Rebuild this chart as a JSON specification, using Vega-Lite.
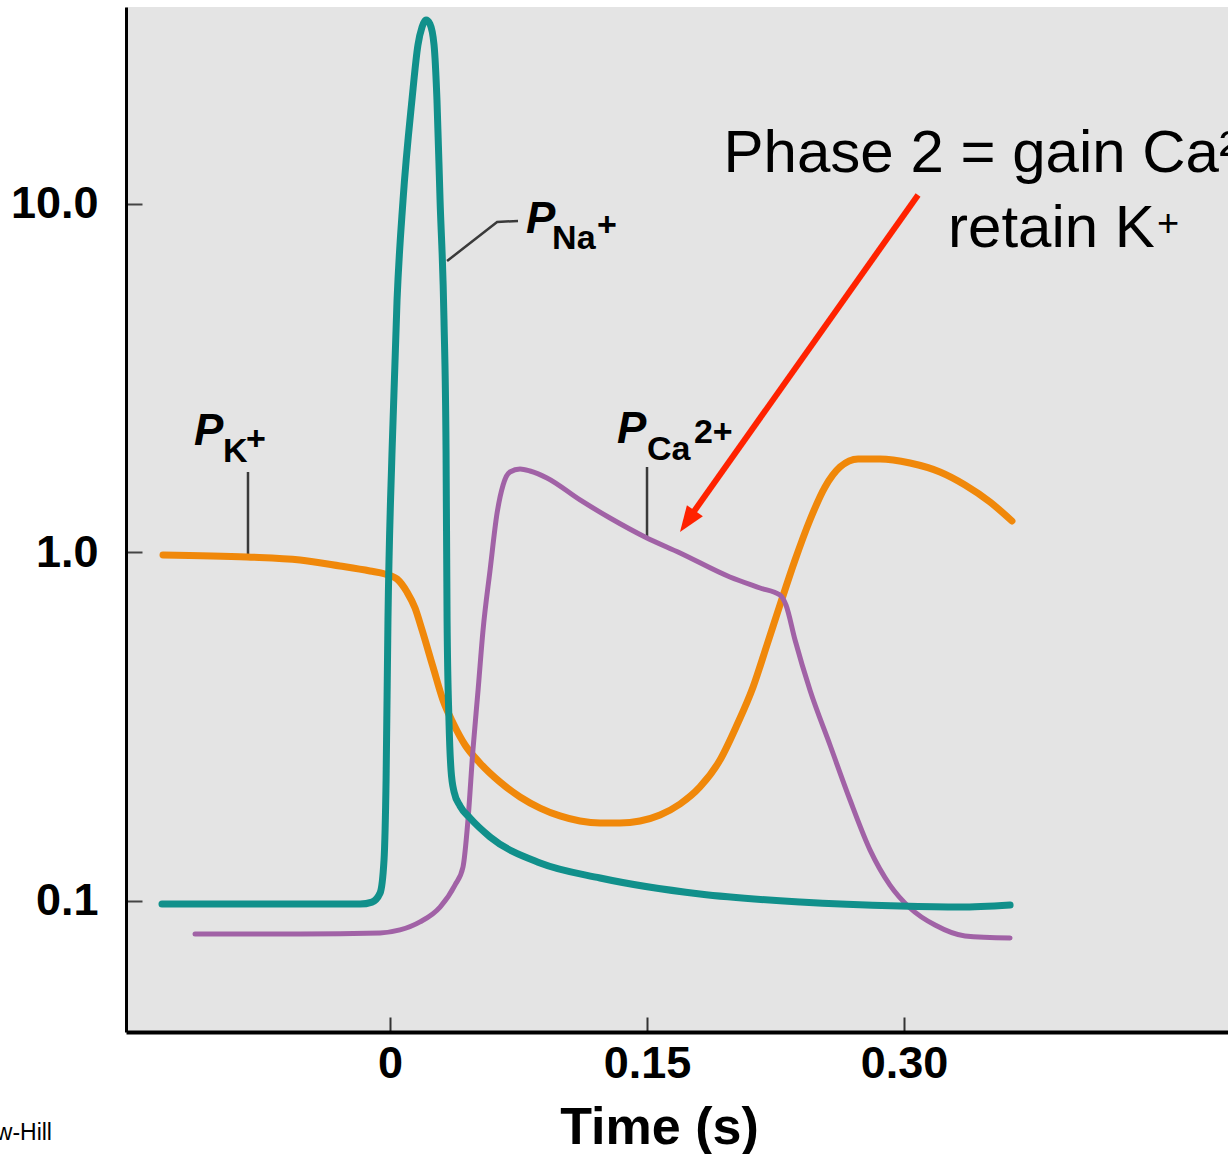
{
  "$schema": "https://vega.github.io/schema/vega-lite/v6.json",
  "width": 1102,
  "height": 1025,
  "autosize": {"type": "none"},
  "padding": {"left": 126, "top": 7, "right": 0, "bottom": 122},
  "background": "white",
  "config": {"view": {"stroke": null, "fill": "#e4e4e4"}, "font": "Liberation Sans"},
  "datasets": {
    "curves": [
      {"series": "K", "t": -0.1325, "p": 0.9836},
      {"series": "K", "t": -0.0835, "p": 0.9707},
      {"series": "K", "t": -0.0525, "p": 0.9517},
      {"series": "K", "t": -0.0292, "p": 0.9147},
      {"series": "K", "t": -0.0117, "p": 0.8849},
      {"series": "K", "t": -0.0029, "p": 0.8674},
      {"series": "K", "t": 0.0041, "p": 0.8393},
      {"series": "K", "t": 0.0099, "p": 0.7702},
      {"series": "K", "t": 0.0146, "p": 0.693},
      {"series": "K", "t": 0.0187, "p": 0.5993},
      {"series": "K", "t": 0.0251, "p": 0.4693},
      {"series": "K", "t": 0.0309, "p": 0.3773},
      {"series": "K", "t": 0.0368, "p": 0.3242},
      {"series": "K", "t": 0.0438, "p": 0.2803},
      {"series": "K", "t": 0.0525, "p": 0.2488},
      {"series": "K", "t": 0.0642, "p": 0.2195},
      {"series": "K", "t": 0.0759, "p": 0.1988},
      {"series": "K", "t": 0.0876, "p": 0.1848},
      {"series": "K", "t": 0.0992, "p": 0.1754},
      {"series": "K", "t": 0.1109, "p": 0.1696},
      {"series": "K", "t": 0.1226, "p": 0.1674},
      {"series": "K", "t": 0.1342, "p": 0.1674},
      {"series": "K", "t": 0.1459, "p": 0.1696},
      {"series": "K", "t": 0.1576, "p": 0.1765},
      {"series": "K", "t": 0.1693, "p": 0.1898},
      {"series": "K", "t": 0.1809, "p": 0.2124},
      {"series": "K", "t": 0.1926, "p": 0.2538},
      {"series": "K", "t": 0.2025, "p": 0.3199},
      {"series": "K", "t": 0.2119, "p": 0.4112},
      {"series": "K", "t": 0.22, "p": 0.5427},
      {"series": "K", "t": 0.2276, "p": 0.7069},
      {"series": "K", "t": 0.2364, "p": 0.9517},
      {"series": "K", "t": 0.2451, "p": 1.2397},
      {"series": "K", "t": 0.2539, "p": 1.5415},
      {"series": "K", "t": 0.2627, "p": 1.7595},
      {"series": "K", "t": 0.2732, "p": 1.855},
      {"series": "K", "t": 0.286, "p": 1.855},
      {"series": "K", "t": 0.3035, "p": 1.806},
      {"series": "K", "t": 0.321, "p": 1.702},
      {"series": "K", "t": 0.3356, "p": 1.562},
      {"series": "K", "t": 0.3502, "p": 1.396},
      {"series": "K", "t": 0.363, "p": 1.2314},

      {"series": "Ca", "t": -0.1138, "p": 0.0804},
      {"series": "Ca", "t": -0.0525, "p": 0.0804},
      {"series": "Ca", "t": -0.0058, "p": 0.081},
      {"series": "Ca", "t": 0.0058, "p": 0.0826},
      {"series": "Ca", "t": 0.0175, "p": 0.0871},
      {"series": "Ca", "t": 0.0292, "p": 0.0961},
      {"series": "Ca", "t": 0.0379, "p": 0.1111},
      {"series": "Ca", "t": 0.0426, "p": 0.1252},
      {"series": "Ca", "t": 0.0455, "p": 0.1708},
      {"series": "Ca", "t": 0.0484, "p": 0.2712},
      {"series": "Ca", "t": 0.0514, "p": 0.4031},
      {"series": "Ca", "t": 0.0543, "p": 0.5993},
      {"series": "Ca", "t": 0.0584, "p": 0.891},
      {"series": "Ca", "t": 0.0625, "p": 1.2984},
      {"series": "Ca", "t": 0.066, "p": 1.562},
      {"series": "Ca", "t": 0.07, "p": 1.702},
      {"series": "Ca", "t": 0.0759, "p": 1.736},
      {"series": "Ca", "t": 0.0817, "p": 1.713},
      {"series": "Ca", "t": 0.0916, "p": 1.636},
      {"series": "Ca", "t": 0.1109, "p": 1.415},
      {"series": "Ca", "t": 0.1284, "p": 1.256},
      {"series": "Ca", "t": 0.1488, "p": 1.108},
      {"series": "Ca", "t": 0.1693, "p": 0.9967},
      {"series": "Ca", "t": 0.1984, "p": 0.8505},
      {"series": "Ca", "t": 0.216, "p": 0.7909},
      {"series": "Ca", "t": 0.2276, "p": 0.7551},
      {"series": "Ca", "t": 0.2311, "p": 0.7069},
      {"series": "Ca", "t": 0.2364, "p": 0.561},
      {"series": "Ca", "t": 0.2451, "p": 0.4031},
      {"series": "Ca", "t": 0.2568, "p": 0.2803},
      {"series": "Ca", "t": 0.2685, "p": 0.1949},
      {"series": "Ca", "t": 0.2802, "p": 0.14},
      {"series": "Ca", "t": 0.2918, "p": 0.1111},
      {"series": "Ca", "t": 0.3035, "p": 0.0955},
      {"series": "Ca", "t": 0.3181, "p": 0.0853},
      {"series": "Ca", "t": 0.3356, "p": 0.0794},
      {"series": "Ca", "t": 0.3619, "p": 0.0783},

      {"series": "Na", "t": -0.1331, "p": 0.098},
      {"series": "Na", "t": -0.0525, "p": 0.098},
      {"series": "Na", "t": -0.0175, "p": 0.098},
      {"series": "Na", "t": -0.0105, "p": 0.0993},
      {"series": "Na", "t": -0.0058, "p": 0.1054},
      {"series": "Na", "t": -0.0035, "p": 0.1311},
      {"series": "Na", "t": -0.0023, "p": 0.2224},
      {"series": "Na", "t": -0.0012, "p": 0.6402},
      {"series": "Na", "t": 0.0012, "p": 1.968},
      {"series": "Na", "t": 0.0041, "p": 5.304},
      {"series": "Na", "t": 0.0076, "p": 10.27},
      {"series": "Na", "t": 0.0128, "p": 19.88},
      {"series": "Na", "t": 0.0163, "p": 28.59},
      {"series": "Na", "t": 0.0187, "p": 32.2},
      {"series": "Na", "t": 0.021, "p": 33.73},
      {"series": "Na", "t": 0.0233, "p": 32.85},
      {"series": "Na", "t": 0.0257, "p": 28.59},
      {"series": "Na", "t": 0.0274, "p": 19.88},
      {"series": "Na", "t": 0.0292, "p": 10.27},
      {"series": "Na", "t": 0.0315, "p": 4.647},
      {"series": "Na", "t": 0.0327, "p": 1.968},
      {"series": "Na", "t": 0.0333, "p": 0.6402},
      {"series": "Na", "t": 0.0344, "p": 0.3307},
      {"series": "Na", "t": 0.0356, "p": 0.2376},
      {"series": "Na", "t": 0.0374, "p": 0.2055},
      {"series": "Na", "t": 0.0409, "p": 0.1873},
      {"series": "Na", "t": 0.0467, "p": 0.173},
      {"series": "Na", "t": 0.0584, "p": 0.1527},
      {"series": "Na", "t": 0.0876, "p": 0.1285},
      {"series": "Na", "t": 0.1226, "p": 0.1164},
      {"series": "Na", "t": 0.1809, "p": 0.1047},
      {"series": "Na", "t": 0.2393, "p": 0.0993},
      {"series": "Na", "t": 0.2977, "p": 0.0967},
      {"series": "Na", "t": 0.3327, "p": 0.0961},
      {"series": "Na", "t": 0.3619, "p": 0.0974}
    ],
    "leaders": [
      {"id": "Na", "t": 0.0333, "p": 6.861},
      {"id": "Na", "t": 0.0625, "p": 8.879},
      {"id": "Na", "t": 0.0747, "p": 8.938},
      {"id": "K", "t": -0.0829, "p": 1.702},
      {"id": "K", "t": -0.0829, "p": 0.9707},
      {"id": "Ca", "t": 0.15, "p": 1.7595},
      {"id": "Ca", "t": 0.15, "p": 1.108}
    ],
    "labels": [
      {"kind": "P", "label": "P", "t": 0.0794, "p": 8.257},
      {"kind": "sub", "label": "Na", "t": 0.0946, "p": 7.43},
      {"kind": "sup", "label": "+", "t": 0.1208, "p": 8.094},
      {"kind": "P", "label": "P", "t": -0.1144, "p": 2.034},
      {"kind": "sub", "label": "K", "t": -0.0975, "p": 1.818},
      {"kind": "sup", "label": "+", "t": -0.084, "p": 1.968},
      {"kind": "P", "label": "P", "t": 0.1325, "p": 2.062},
      {"kind": "sub", "label": "Ca", "t": 0.15, "p": 1.843},
      {"kind": "sup", "label": "2+", "t": 0.1774, "p": 2.062},
      {"kind": "note", "label": "Phase 2 = gain Ca²⁺", "t": 0.1947, "p": 12.36},
      {"kind": "note", "label": "retain K", "t": 0.3257, "p": 7.527},
      {"kind": "notesup", "label": "+", "t": 0.4477, "p": 8.094},
      {"kind": "credit", "label": "McGraw-Hill", "t": -0.1973, "p": 0.02062}
    ],
    "arrow": [
      {"t": 0.3082, "p": 10.613, "t2": 0.1751, "p2": 1.264}
    ],
    "arrowhead": [
      {"t": 0.1736, "p": 1.228}
    ]
  },
  "encoding": {
    "x": {
      "field": "t",
      "type": "quantitative",
      "scale": {"domain": [-0.1541, 0.4891], "nice": false, "zero": false},
      "axis": {
        "values": [0, 0.15, 0.3],
        "labelExpr": "datum.value == 0 ? '0' : format(datum.value, '.2f')",
        "grid": false,
        "tickSize": -15,
        "tickWidth": 2,
        "tickColor": "#333333",
        "domainColor": "black",
        "domainWidth": 4,
        "labelFont": "Liberation Sans",
        "labelFontWeight": "bold",
        "labelFontSize": 45,
        "labelColor": "black",
        "labelPadding": 24,
        "labelFlush": false,
        "title": "Time (s)",
        "titleFont": "Liberation Sans",
        "titleFontWeight": "bold",
        "titleFontSize": 52,
        "titleColor": "black",
        "titleX": 533,
        "titleY": 111,
        "titleAlign": "center",
        "titleBaseline": "alphabetic"
      }
    },
    "y": {
      "field": "p",
      "type": "quantitative",
      "scale": {"type": "log", "domain": [0.04208, 36.75], "nice": false},
      "axis": {
        "values": [0.1, 1, 10],
        "labelExpr": "format(datum.value, '.1f')",
        "grid": false,
        "tickSize": -16,
        "tickWidth": 2,
        "tickColor": "#444444",
        "domainColor": "black",
        "domainWidth": 3,
        "labelFont": "Liberation Sans",
        "labelFontWeight": "bold",
        "labelFontSize": 45,
        "labelColor": "black",
        "labelPadding": 44,
        "title": null
      }
    }
  },
  "layer": [
    {
      "data": {"name": "leaders"},
      "mark": {"type": "line", "color": "#3a3a3a", "strokeWidth": 2.5, "interpolate": "linear"},
      "encoding": {"detail": {"field": "id", "type": "nominal"}}
    },
    {
      "data": {"name": "curves"},
      "transform": [{"filter": "datum.series === 'K'"}],
      "mark": {"type": "line", "color": "#f0880a", "strokeWidth": 7, "interpolate": "monotone", "strokeCap": "round"},
      "encoding": {}
    },
    {
      "data": {"name": "curves"},
      "transform": [{"filter": "datum.series === 'Ca'"}],
      "mark": {"type": "line", "color": "#a162a6", "strokeWidth": 5, "interpolate": "monotone", "strokeCap": "round"},
      "encoding": {}
    },
    {
      "data": {"name": "curves"},
      "transform": [{"filter": "datum.series === 'Na'"}],
      "mark": {"type": "line", "color": "#11908b", "strokeWidth": 7, "interpolate": "monotone", "strokeCap": "round"},
      "encoding": {}
    },
    {
      "data": {"name": "arrow"},
      "mark": {"type": "rule", "color": "#ff2200", "strokeWidth": 6},
      "encoding": {"x2": {"field": "t2"}, "y2": {"field": "p2"}}
    },
    {
      "data": {"name": "arrowhead"},
      "mark": {"type": "point", "shape": "M0,-1L0.75,1L-0.75,1Z", "filled": true, "color": "#ff2200", "opacity": 1, "size": 676, "angle": 215}
    },
    {
      "data": {"name": "labels"},
      "transform": [{"filter": "datum.kind === 'P'"}],
      "mark": {"type": "text", "align": "left", "baseline": "alphabetic", "font": "Liberation Sans", "fontSize": 44, "fontWeight": "bold", "fontStyle": "italic", "color": "black"},
      "encoding": {"text": {"field": "label"}}
    },
    {
      "data": {"name": "labels"},
      "transform": [{"filter": "datum.kind === 'sub'"}],
      "mark": {"type": "text", "align": "left", "baseline": "alphabetic", "font": "Liberation Sans", "fontSize": 34, "fontWeight": "bold", "color": "black"},
      "encoding": {"text": {"field": "label"}}
    },
    {
      "data": {"name": "labels"},
      "transform": [{"filter": "datum.kind === 'sup'"}],
      "mark": {"type": "text", "align": "left", "baseline": "alphabetic", "font": "Liberation Sans", "fontSize": 34, "fontWeight": "bold", "color": "black"},
      "encoding": {"text": {"field": "label"}}
    },
    {
      "data": {"name": "labels"},
      "transform": [{"filter": "datum.kind === 'note'"}],
      "mark": {"type": "text", "align": "left", "baseline": "alphabetic", "font": "Liberation Sans", "fontSize": 60, "color": "black"},
      "encoding": {"text": {"field": "label"}}
    },
    {
      "data": {"name": "labels"},
      "transform": [{"filter": "datum.kind === 'notesup'"}],
      "mark": {"type": "text", "align": "left", "baseline": "alphabetic", "font": "Liberation Sans", "fontSize": 38, "color": "black"},
      "encoding": {"text": {"field": "label"}}
    },
    {
      "data": {"name": "labels"},
      "transform": [{"filter": "datum.kind === 'credit'"}],
      "mark": {"type": "text", "align": "right", "baseline": "alphabetic", "font": "Liberation Sans", "fontSize": 23, "color": "black"},
      "encoding": {"text": {"field": "label"}}
    }
  ]
}
